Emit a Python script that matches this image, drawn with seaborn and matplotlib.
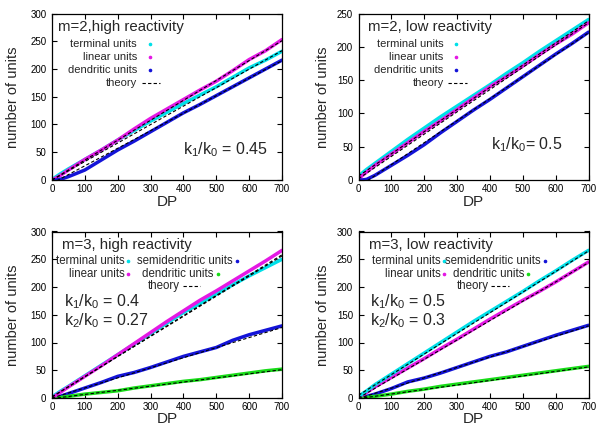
import numpy as np
import pandas as pd
import matplotlib
matplotlib.use("Agg")
import matplotlib.pyplot as plt
import seaborn as sns

sns.set_theme(style="ticks")
plt.rcParams['font.family'] = ['Liberation Sans', 'DejaVu Sans']
plt.rcParams['mathtext.fontset'] = 'custom'
plt.rcParams['mathtext.rm'] = 'Liberation Sans'
plt.rcParams['mathtext.it'] = 'Liberation Sans'

# ---------------- data ----------------
dp = [0, 10, 25, 50, 100, 150, 200, 250, 300, 350, 400, 450, 500, 550, 600, 650, 700]
dp_theory = [0, 700]

# panel 1: m=2, high reactivity
p1_terminal = [0, 5, 11, 20, 37, 54, 72, 89, 106, 122, 138, 153, 168, 185, 202, 216, 232]
p1_linear = [0, 3, 8, 18, 37, 54, 72, 92, 111, 128, 145, 162, 178, 197, 217, 233, 253]
p1_dendritic = [0, 0, 1, 6, 18, 36, 54, 70, 87, 104, 121, 136, 152, 168, 184, 200, 216]
p1_theory_terminal = [0, 233]
p1_theory_linear = [0, 251]
p1_theory_dendritic = [-6, 215]

# panel 2: m=2, low reactivity
p2_terminal = [0, 10, 16, 25, 43, 61, 78, 95, 111, 127, 143, 160, 176, 193, 209, 225, 241]
p2_linear = [0, 6, 12, 22, 39, 56, 73, 89, 106, 123, 140, 155, 171, 188, 204, 219, 236]
p2_dendritic = [0, 0, 1, 7, 22, 37, 53, 71, 88, 105, 121, 138, 155, 172, 189, 205, 222]
p2_theory_terminal = [6, 239]
p2_theory_linear = [2, 236]
p2_theory_dendritic = [-10, 221]

# panel 3: m=3, high reactivity
p3_terminal = [0, 6, 12, 21, 40, 59, 78, 97, 116, 135, 154, 170, 187, 204, 220, 235, 250]
p3_linear = [0, 4, 10, 20, 39, 58, 78, 98, 118, 138, 157, 176, 193, 211, 229, 247, 266]
p3_semidendritic = [0, 1, 3, 8, 18, 28, 39, 46, 55, 65, 75, 83, 91, 104, 114, 122, 130]
p3_dendritic = [0, 0, 1, 3, 7, 10, 13, 18, 22, 26, 30, 33, 37, 41, 45, 49, 52]
p3_theory_terminal = [2, 256]
p3_theory_linear = [2, 258]
p3_theory_semidendritic = [0, 127]
p3_theory_dendritic = [-1, 51]

# panel 4: m=3, low reactivity
p4_terminal = [0, 7, 13, 24, 43, 62, 81, 100, 119, 138, 156, 174, 192, 211, 229, 248, 266]
p4_linear = [0, 5, 10, 20, 37, 54, 71, 89, 106, 124, 142, 159, 176, 192, 209, 227, 245]
p4_semidendritic = [0, 1, 3, 7, 17, 29, 36, 45, 55, 65, 75, 83, 93, 103, 113, 122, 131]
p4_dendritic = [0, 0, 1, 3, 7, 12, 16, 21, 25, 29, 33, 37, 41, 45, 49, 53, 57]
p4_theory_terminal = [5, 265]
p4_theory_linear = [0, 244]
p4_theory_semidendritic = [-1, 130]
p4_theory_dendritic = [-1, 56]

titles = ["m=2,high reactivity", "m=2, low reactivity",
          "m=3, high reactivity", "m=3, low reactivity"]
annot = [[r"k$_1$/k$_0$ = 0.45"], [r"k$_1$/k$_0$= 0.5"],
         [r"k$_1$/k$_0$ = 0.4", r"k$_2$/k$_0$ = 0.27"],
         [r"k$_1$/k$_0$ = 0.5", r"k$_2$/k$_0$ = 0.3"]]
ymax = [300, 250, 300, 300]

C_TERM = '#00e0e8'
C_LIN = '#e418e4'
C_SEMI = '#1414d8'
C_DEND2 = '#1414d8'
C_DEND3 = '#18dc18'

panels = [
    dict(series=[(p1_terminal, C_TERM), (p1_linear, C_LIN), (p1_dendritic, C_DEND2)],
         theory=[p1_theory_terminal, p1_theory_linear, p1_theory_dendritic]),
    dict(series=[(p2_terminal, C_TERM), (p2_linear, C_LIN), (p2_dendritic, C_DEND2)],
         theory=[p2_theory_terminal, p2_theory_linear, p2_theory_dendritic]),
    dict(series=[(p3_semidendritic, C_SEMI), (p3_dendritic, C_DEND3),
                 (p3_terminal, C_TERM), (p3_linear, C_LIN)],
         theory=[p3_theory_terminal, p3_theory_linear, p3_theory_semidendritic, p3_theory_dendritic]),
    dict(series=[(p4_semidendritic, C_SEMI), (p4_dendritic, C_DEND3),
                 (p4_linear, C_LIN), (p4_terminal, C_TERM)],
         theory=[p4_theory_terminal, p4_theory_linear, p4_theory_semidendritic, p4_theory_dendritic]),
]

fig = plt.figure(figsize=(5.98, 4.28), dpi=100)
W, H = 598.0, 428.0
aw, ah = 230.0, 166.5
lefts = [52.0, 358.5, 52.0, 358.5]
tops = [13.5, 13.5, 231.5, 231.5]

axes = []
for i in range(4):
    ax = fig.add_axes([lefts[i] / W, 1 - (tops[i] + ah) / H, aw / W, ah / H])
    axes.append(ax)
    p = panels[i]
    for vals, col in p['series']:
        sns.lineplot(x=dp, y=vals, color=col, lw=2.5, ax=ax, solid_capstyle='round')
    for th in p['theory']:
        sns.lineplot(x=dp_theory, y=th, color='black', lw=0.8, ax=ax,
                     linestyle=(0, (3, 2)))
    ax.set_xlim(0, 700)
    ax.set_ylim(0, ymax[i])
    ax.set_xticks(range(0, 701, 100))
    ax.set_yticks(range(0, ymax[i] + 1, 50))
    ax.tick_params(direction='in', length=3.5, width=0.8, top=True, right=True,
                   labelsize=7, colors='black')
    ax.tick_params(axis='x', pad=3)
    ax.tick_params(axis='y', pad=4)
    for s in ax.spines.values():
        s.set_linewidth(0.9)
        s.set_color('black')
    ax.set_xlabel("DP", fontsize=11, va='center')
    ax.set_ylabel("number of units", fontsize=10.5, va='center')
    ax.xaxis.set_label_coords(0.5, -0.13 if i < 2 else -0.126)
    ax.yaxis.set_label_coords(-0.168 if i % 2 == 0 else -0.154, 0.5)
    ax.text(0.026 if i == 0 else (0.041 if i == 1 else 0.045), 0.918, titles[i],
            transform=ax.transAxes, fontsize=10.8, va='center', ha='left')

# annotations
axes[0].text(0.57, 0.18, annot[0][0], transform=axes[0].transAxes, fontsize=11.5, va='center')
axes[1].text(0.576, 0.214, annot[1][0], transform=axes[1].transAxes, fontsize=11.5, va='center')
for k in (2, 3):
    axes[k].text(0.05, 0.578, annot[k][0], transform=axes[k].transAxes, fontsize=11.5, va='center')
    axes[k].text(0.05, 0.462, annot[k][1], transform=axes[k].transAxes, fontsize=11.5, va='center')


def key_dot(ax, xt, xd, y, label, col, fs=8):
    ax.text(xt, y, label, transform=ax.transAxes, fontsize=fs, ha='right', va='center')
    ax.plot([xd], [y], marker='o', ms=1.6, color=col, transform=ax.transAxes, clip_on=False)


def key_dash(ax, xt, x0, x1, y, label, fs=8):
    ax.text(xt, y, label, transform=ax.transAxes, fontsize=fs, ha='right', va='center')
    ax.plot([x0, x1], [y, y], color='black', lw=0.8, linestyle=(0, (3, 2)),
            transform=ax.transAxes, clip_on=False)


rows = [0.817, 0.739, 0.661, 0.583]
for k in (0, 1):
    ax = axes[k]
    key_dot(ax, 0.37, 0.425, rows[0], "terminal units", C_TERM)
    key_dot(ax, 0.37, 0.425, rows[1], "linear units", C_LIN)
    key_dot(ax, 0.37, 0.425, rows[2], "dendritic units", C_DEND2)
    key_dash(ax, 0.37, 0.39, 0.47, rows[3], "theory")

r3 = [0.821, 0.743, 0.671]
fb = 8.3
ax = axes[2]
key_dot(ax, 0.315, 0.33, r3[0], "terminal units", C_TERM, fb)
key_dot(ax, 0.315, 0.33, r3[1], "linear units", C_LIN, fb)
key_dot(ax, 0.785, 0.806, r3[0], "semidendritic units", C_SEMI, fb)
key_dot(ax, 0.70, 0.72, r3[1], "dendritic units", C_DEND3, fb)
key_dash(ax, 0.555, 0.571, 0.644, r3[2], "theory", fb)

ax = axes[3]
key_dot(ax, 0.357, 0.373, r3[0], "terminal units", C_TERM, fb)
key_dot(ax, 0.357, 0.373, r3[1], "linear units", C_LIN, fb)
key_dot(ax, 0.79, 0.812, r3[0], "semidendritic units", C_SEMI, fb)
key_dot(ax, 0.72, 0.737, r3[1], "dendritic units", C_DEND3, fb)
key_dash(ax, 0.565, 0.578, 0.653, r3[2], "theory", fb)

fig.savefig("out.png", dpi=100)
